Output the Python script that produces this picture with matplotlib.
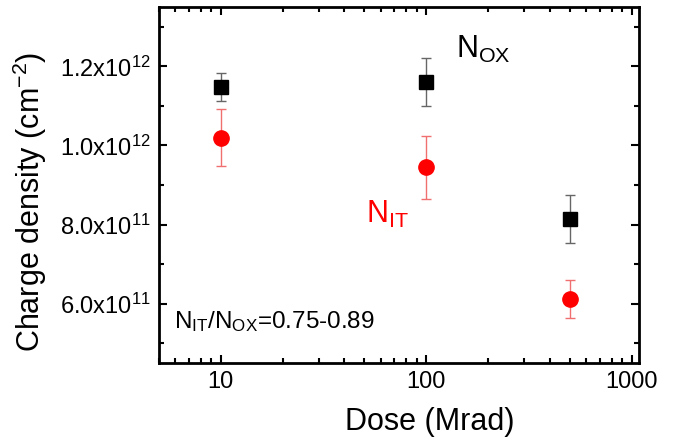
import matplotlib
matplotlib.use("Agg")
import matplotlib.pyplot as plt
from matplotlib.ticker import FixedLocator, MultipleLocator, LogLocator, NullFormatter

plt.rcParams['font.family'] = ['Liberation Sans', 'DejaVu Sans']
plt.rcParams['mathtext.fontset'] = 'custom'
plt.rcParams['mathtext.rm'] = 'Liberation Sans'
plt.rcParams['mathtext.it'] = 'Liberation Sans:italic'
plt.rcParams['mathtext.default'] = 'regular'

# data
dose = [10, 100, 500]
n_ox = [1.148e12, 1.160e12, 0.815e12]
n_ox_err = [0.035e12, 0.060e12, 0.061e12]
n_it = [1.019e12, 0.945e12, 0.613e12]
n_it_err = [0.072e12, 0.080e12, 0.048e12]

ytick_vals = [6.0e11, 8.0e11, 1.0e12, 1.2e12]
ytick_labels = [r'6.0x10$^{11}$', r'8.0x10$^{11}$', r'1.0x10$^{12}$', r'1.2x10$^{12}$']

fig = plt.figure(figsize=(6.73, 4.40), dpi=100)
ax = fig.add_axes([0.236, 0.175, 0.713, 0.809])

ax.errorbar(dose, n_ox, yerr=n_ox_err, fmt='s', color='black', ms=10,
            ecolor='#666666', elinewidth=1, capsize=3.5, capthick=1)
ax.errorbar(dose, n_it, yerr=n_it_err, fmt='o', color='#ff0000', ms=11,
            ecolor='#f07070', elinewidth=1, capsize=3.5, capthick=1)

ax.set_xscale('log')
ax.set_xlim(5, 1080)
ax.set_ylim(4.5e11, 1.35e12)

ax.xaxis.set_major_locator(FixedLocator([10, 100, 1000]))
ax.set_xticklabels(['10', '100', '1000'])
ax.xaxis.set_minor_locator(LogLocator(base=10, subs=range(2, 10)))
ax.xaxis.set_minor_formatter(NullFormatter())
ax.yaxis.set_major_locator(FixedLocator(ytick_vals))
ax.set_yticklabels(ytick_labels)
ax.yaxis.set_minor_locator(MultipleLocator(1e11))

ax.tick_params(which='both', direction='in', top=True, right=True, labelsize=17, width=1.5)
ax.tick_params(which='major', length=6, pad=6)
ax.tick_params(which='minor', length=3.5)
for s in ax.spines.values():
    s.set_linewidth(2)

ax.set_xlabel('Dose (Mrad)', fontsize=22)
ax.set_ylabel(r'Charge density (cm$^{-2}$)', fontsize=22)
ax.xaxis.set_label_coords(0.565, -0.125)
ax.yaxis.set_label_coords(-0.228, 0.452)

ax.text(140, 1.222e12, r'N$_{OX}$', fontsize=22, color='black')
ax.text(51, 8.05e11, r'N$_{IT}$', fontsize=22, color='#ff0000')
ax.text(5.9, 5.37e11, r'N$_{IT}$/N$_{OX}$=0.75-0.89', fontsize=17.5, color='black')

fig.savefig('out.png', dpi=100)
